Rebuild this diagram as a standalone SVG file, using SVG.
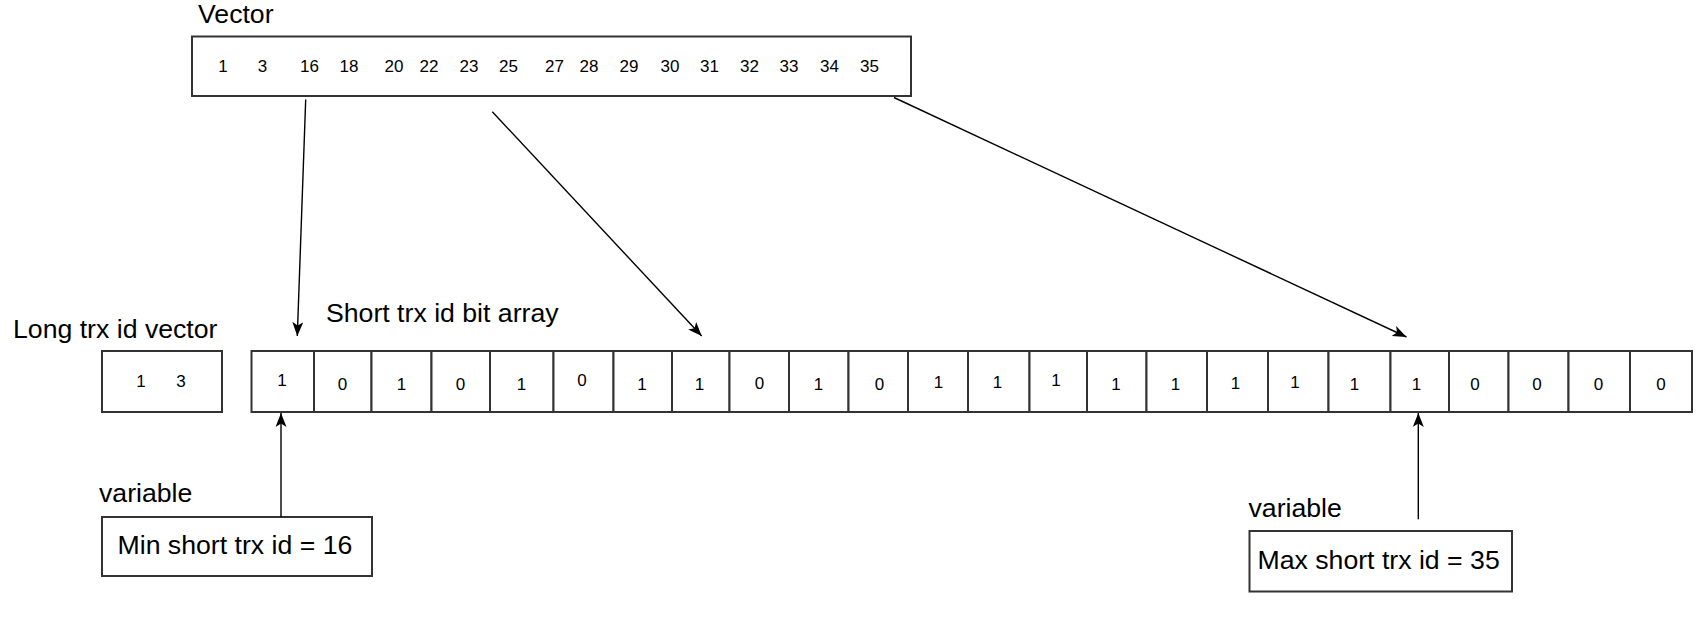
<svg xmlns="http://www.w3.org/2000/svg" width="1699" height="623" viewBox="0 0 1699 623">
<defs>
<style>
.box{fill:#fff;stroke:#333;stroke-width:2}
.lbl{font-family:"Liberation Sans",Arial,sans-serif;font-size:26.67px;fill:#000}
.num{font-family:"Liberation Sans",Arial,sans-serif;font-size:17px;fill:#000;text-anchor:middle}
.conn{stroke:#000;stroke-width:1.4;fill:none}
</style>
<marker id="ah" viewBox="0 0 14 11" refX="14" refY="5.5" markerWidth="14" markerHeight="11" markerUnits="userSpaceOnUse" orient="auto">
<path d="M0,0 L14,5.5 L0,11 L3.5,5.5 Z" fill="#000"/>
</marker>
</defs>
<rect width="1699" height="623" fill="#fff"/>

<g id="vector">
<text class="lbl" x="198" y="23">Vector</text>
<rect class="box" x="192" y="36.5" width="719" height="59.5"/>
<g class="num">
<text x="223" y="72">1</text><text x="262.5" y="72">3</text><text x="309.5" y="72">16</text><text x="349" y="72">18</text>
<text x="394" y="72">20</text><text x="429" y="72">22</text><text x="469" y="72">23</text><text x="508.5" y="72">25</text>
<text x="554.5" y="72">27</text><text x="589" y="72">28</text><text x="629" y="72">29</text><text x="670" y="72">30</text>
<text x="709.5" y="72">31</text><text x="749.5" y="72">32</text><text x="789" y="72">33</text><text x="829.5" y="72">34</text>
<text x="869.5" y="72">35</text>
</g>
</g>

<g id="long-vector">
<text class="lbl" x="13" y="338">Long trx id vector</text>
<rect class="box" x="102" y="351" width="120" height="61"/>
<text class="num" x="141" y="387">1</text>
<text class="num" x="181" y="387">3</text>
</g>

<g id="bit-array">
<text class="lbl" x="326" y="322">Short trx id bit array</text>
<rect class="box" x="251.5" y="351" width="62.5" height="61"/><text class="num" x="282" y="386">1</text>
<rect class="box" x="314" y="351" width="57.5" height="61"/><text class="num" x="342.5" y="390">0</text>
<rect class="box" x="371.5" y="351" width="60" height="61"/><text class="num" x="401.5" y="390">1</text>
<rect class="box" x="431.5" y="351" width="58.5" height="61"/><text class="num" x="460.5" y="390">0</text>
<rect class="box" x="490" y="351" width="63.5" height="61"/><text class="num" x="521.5" y="390">1</text>
<rect class="box" x="553.5" y="351" width="60" height="61"/><text class="num" x="582" y="386">0</text>
<rect class="box" x="613.5" y="351" width="58.5" height="61"/><text class="num" x="642" y="390">1</text>
<rect class="box" x="672" y="351" width="57.5" height="61"/><text class="num" x="699.5" y="390">1</text>
<rect class="box" x="729.5" y="351" width="59.5" height="61"/><text class="num" x="759.5" y="389">0</text>
<rect class="box" x="789" y="351" width="59.5" height="61"/><text class="num" x="818.5" y="390">1</text>
<rect class="box" x="848.5" y="351" width="59.5" height="61"/><text class="num" x="879.5" y="390">0</text>
<rect class="box" x="908" y="351" width="60" height="61"/><text class="num" x="938.5" y="388">1</text>
<rect class="box" x="968" y="351" width="61.5" height="61"/><text class="num" x="997.5" y="388">1</text>
<rect class="box" x="1029.5" y="351" width="57.5" height="61"/><text class="num" x="1056" y="386">1</text>
<rect class="box" x="1087" y="351" width="59.5" height="61"/><text class="num" x="1116" y="390">1</text>
<rect class="box" x="1146.5" y="351" width="60.5" height="61"/><text class="num" x="1175.5" y="390">1</text>
<rect class="box" x="1207" y="351" width="61" height="61"/><text class="num" x="1235.5" y="389">1</text>
<rect class="box" x="1268" y="351" width="60.5" height="61"/><text class="num" x="1295" y="388">1</text>
<rect class="box" x="1328.5" y="351" width="62" height="61"/><text class="num" x="1354.5" y="390">1</text>
<rect class="box" x="1390.5" y="351" width="58.5" height="61"/><text class="num" x="1416.5" y="390">1</text>
<rect class="box" x="1449" y="351" width="59.5" height="61"/><text class="num" x="1475" y="390">0</text>
<rect class="box" x="1508.5" y="351" width="60" height="61"/><text class="num" x="1537" y="390">0</text>
<rect class="box" x="1568.5" y="351" width="61.5" height="61"/><text class="num" x="1598.5" y="390">0</text>
<rect class="box" x="1630" y="351" width="62" height="61"/><text class="num" x="1661" y="390">0</text>
</g>

<g id="min-var">
<text class="lbl" x="99" y="501.5">variable</text>
<rect class="box" x="102" y="517" width="270" height="59" stroke-width="1.6"/>
<text class="lbl" x="117.5" y="554">Min short trx id = 16</text>
</g>

<g id="max-var">
<text class="lbl" x="1248.5" y="516.5">variable</text>
<rect class="box" x="1249.5" y="531" width="262.5" height="60.5" stroke-width="1.6"/>
<text class="lbl" x="1257.5" y="569">Max short trx id = 35</text>
</g>

<g id="connectors">
<line class="conn" x1="305.7" y1="99.5" x2="297.3" y2="336" marker-end="url(#ah)"/>
<line class="conn" x1="492.3" y1="111.7" x2="701.7" y2="336" marker-end="url(#ah)"/>
<line class="conn" x1="894" y1="97.5" x2="1406.5" y2="337" marker-end="url(#ah)"/>
<line class="conn" x1="281" y1="517" x2="281" y2="413" marker-end="url(#ah)"/>
<line class="conn" x1="1418.3" y1="519.3" x2="1418.3" y2="413" marker-end="url(#ah)"/>
</g>
</svg>
